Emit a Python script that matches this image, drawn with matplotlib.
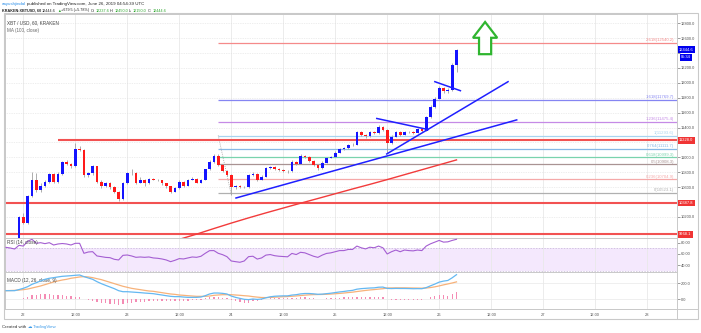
import matplotlib.pyplot as plt
import matplotlib.transforms as mtransforms
from matplotlib.patches import Polygon, Rectangle
from matplotlib.ticker import FuncFormatter

plt.rcParams['font.family'] = ['Liberation Sans', 'DejaVu Sans']

# ---- hourly XBT/USD candles, hour 0 = Jun 22 00:00 UTC ----
hours = list(range(-4, 101))
first_open = 9830
closes = [9850, 9880, 9870, 10196,                                             # -4..-1
          10116, 10480, 10697, 10560, 10620, 10674, 10773, 10674, 10780, 10934,  # 0..9
          10910, 10880, 11113, 11100, 10764, 10790, 10880, 10674, 10610, 10655,  # 10..19
          10600, 10540, 10438, 10652, 10790, 10795, 10660, 10700, 10650, 10705,  # 20..29
          10700, 10690, 10650, 10610, 10540, 10585, 10670, 10620, 10700, 10715,  # 30..39
          10660, 10700, 10840, 10943, 11025, 10898, 10822, 10770, 10600, 10612,  # 40..49
          10605, 10598, 10764, 10778, 10697, 10741, 10853, 10875, 10844, 10831,  # 50..59
          10822, 10812, 10943, 10912, 11019, 11010, 10956, 10898, 10853, 10930,  # 60..69
          10995, 11010, 11063, 11113, 11120, 11166, 11172, 11345, 11300, 11282,  # 70..79
          11340, 11330, 11412, 11368, 11198, 11278, 11345, 11300, 11345, 11338,  # 80..89
          11330, 11375, 11360, 11546, 11680, 11790, 11932, 11885, 11900, 12237.6,  # 90..99
          12444.6]
highs = [9880, 9900, 9895, 10210,
         10254, 10500, 10805, 10795, 10650, 10700, 10790, 10785, 10800, 10950,
         10960, 10925, 11190, 11150, 11110, 10810, 10900, 10890, 10690, 10670,
         10665, 10610, 10555, 10665, 10810, 10840, 10805, 10730, 10710, 10720,
         10720, 10710, 10700, 10660, 10620, 10600, 10690, 10680, 10715, 10730,
         10725, 10715, 10850, 10960, 11040, 11040, 10910, 10835, 10780, 10630,
         10625, 10615, 10780, 10800, 10790, 10760, 10870, 10890, 10885, 10855,
         10840, 10835, 10960, 10955, 11050, 11035, 11020, 10965, 10905, 10945,
         11010, 11025, 11080, 11130, 11140, 11185, 11190, 11360, 11355, 11320,
         11355, 11360, 11430, 11420, 11380, 11295, 11360, 11355, 11360, 11355,
         11350, 11390, 11385, 11560, 11700, 11815, 11960, 11945, 11925, 12260,
         12450]
lows = [9810, 9840, 9850, 9860,
        10100, 10100, 10470, 10540, 10540, 10600, 10660, 10650, 10660, 10770,
        10895, 10860, 10870, 11080, 10730, 10740, 10770, 10650, 10590, 10600,
        10580, 10520, 10410, 10430, 10640, 10770, 10640, 10650, 10620, 10645,
        10690, 10680, 10630, 10590, 10520, 10530, 10580, 10600, 10610, 10690,
        10650, 10650, 10690, 10830, 10930, 10880, 10800, 10750, 10500, 10580,
        10590, 10585, 10590, 10750, 10680, 10690, 10735, 10840, 10830, 10815,
        10805, 10795, 10805, 10900, 10905, 10995, 10940, 10880, 10835, 10845,
        10920, 10985, 11000, 11055, 11100, 11110, 11155, 11165, 11285, 11265,
        11275, 11315, 11320, 11355, 11055, 11185, 11270, 11285, 11295, 11325,
        11315, 11325, 11345, 11350, 11530, 11665, 11780, 11860, 11870, 11890,
        12150]

# MA(100, close)
ma_hours = [36, 40, 44, 48, 52, 56, 60, 64, 68, 72, 76, 80, 84, 88, 92, 96, 100]
ma_values = [9900, 9970, 10045, 10118, 10188, 10255, 10320, 10385, 10448,
             10512, 10576, 10638, 10702, 10768, 10834, 10900, 10966]

# RSI(14)
rsi = [71.7, 70.6, 68.8, 75.3,
       74.0, 82.4, 86.0, 78.9, 80.0, 78.3, 80.0, 75.9, 77.7, 78.5,
       77.7, 75.9, 78.9, 78.9, 61.2, 63.5, 64.1, 56.5, 55.3, 54.0,
       53.5, 50.6, 49.4, 57.6, 58.2, 56.5, 54.1, 54.7, 54.1, 54.7,
       53.0, 52.4, 51.2, 49.4, 46.4, 48.8, 51.8, 51.2, 53.0, 54.7,
       54.1, 55.9, 61.2, 65.9, 66.0, 61.2, 58.8, 55.3, 47.6, 46.4,
       45.3, 47.6, 55.3, 56.0, 51.0, 53.0, 58.0, 59.0, 57.0, 56.0,
       55.5, 55.0, 61.0, 59.0, 63.0, 62.0, 59.0, 56.0, 54.0, 58.0,
       61.0, 62.0, 64.0, 66.0, 66.0, 68.0, 68.0, 74.0, 71.0, 69.0,
       72.0, 71.0, 74.0, 71.0, 60.0, 64.0, 67.0, 64.0, 67.0, 66.0,
       65.5, 67.0, 66.0, 74.0, 78.0, 81.0, 84.0, 81.0, 81.5, 84.0,
       86.0]

# MACD(12, 26, close, 9)
macd = [106, 106, 106, 120,
        136, 157, 187, 208, 230, 251, 264, 272, 281, 289,
        293, 297, 302, 306, 285, 268, 251, 221, 196, 174,
        153, 132, 106, 93, 93, 89, 85, 81, 76, 72,
        68, 59, 51, 42, 34, 30, 30, 25, 21, 21,
        21, 25, 42, 64, 76, 76, 72, 64, 38, 21,
        8, -4, -8, 0, -5, 0, 15, 28, 35, 38,
        40, 40, 50, 55, 65, 70, 70, 66, 60, 62,
        68, 74, 82, 90, 96, 104, 110, 125, 132, 136,
        140, 142, 150, 152, 135, 133, 135, 134, 134, 133,
        131, 132, 131, 145, 168, 190, 215, 228, 236, 270,
        310]
signal = [106, 108, 110, 114,
          119, 127, 140, 153, 166, 183, 200, 217, 230, 242,
          251, 264, 272, 281, 285, 281, 272, 259, 247, 230,
          213, 196, 179, 162, 149, 136, 127, 119, 110, 102,
          98, 89, 81, 72, 64, 59, 51, 47, 42, 38,
          34, 34, 34, 38, 47, 51, 55, 55, 55, 51,
          47, 42, 38, 30, 24, 19, 18, 20, 23, 26,
          29, 31, 35, 39, 44, 49, 53, 56, 57, 58,
          60, 63, 67, 71, 76, 82, 87, 95, 102, 109,
          115, 120, 126, 131, 140, 141, 142, 142, 142, 141,
          140, 139, 138, 140, 146, 155, 167, 180, 192, 204,
          218]

# Fibonacci extension levels
fib_ratios = ['2.618', '1.618', '1.236', '1', '0.764', '0.618', '0.5', '0.236', '0']
fib_prices = [12540.2, 11769.7, 11475.4, 11293.6, 11111.7, 10999.3, 10908.3, 10704.9, 10523.1]
fib_colors = ['#f58a8a', '#8585f2', '#c58ae6', '#a8d4f0', '#86b8e6',
              '#79d3ad', '#a99393', '#f5a9a9', '#b0b0b0']
fib_start = 45

# support / resistance levels
red_levels = [11228.0, 10387.8, 9968.1]
red_starts = [8, -5, -5]

# trend lines: (h0, p0, h1, p1)
trend_lines = [(49.1, 10455, 113.9, 11503),
               (83.9, 11046, 111.9, 12016),
               (81.6, 11522, 93.4, 11374),
               (95.0, 12016, 100.9, 11895)]

hour_ticks = list(range(0, 145, 12))
hour_labels = ['22', '12:00', '23', '12:00', '24', '12:00', '25', '12:00',
               '26', '12:00', '27', '12:00', '28']

W, H = 701, 333
XMIN, XMAX = -4.34, 150.9
UP, DOWN = '#1414ff', '#ff1a1a'
GRID = '#e9e9e9'
AXTXT = '#555555'


def frame(x0, y0, x1, y1):
    return [x0 / W, 1 - y1 / H, (x1 - x0) / W, (y1 - y0) / H]


fig = plt.figure(figsize=(W / 100, H / 100), dpi=100)
fig.patch.set_facecolor('white')

ax = fig.add_axes(frame(4.5, 13.5, 677, 238))
ax_rsi = fig.add_axes(frame(4.5, 238, 677, 272), sharex=ax)
ax_macd = fig.add_axes(frame(4.5, 272, 677, 308.5), sharex=ax)

for a in (ax, ax_rsi, ax_macd):
    a.set_xlim(XMIN, XMAX)
    a.set_xticks(hour_ticks)
    a.grid(axis='x', color=GRID, lw=0.6)
    a.yaxis.tick_right()
    a.tick_params(axis='y', labelsize=2.9, colors=AXTXT, length=2, width=0.4, pad=1)
    a.tick_params(axis='x', length=0, labelbottom=False)
    for s in a.spines.values():
        s.set_color('#c9c9c9')
        s.set_linewidth(0.7)
    a.set_axisbelow(True)

# ---- price panel ----
ax.set_ylim(9918, 12931)
price_ticks = list(range(10200, 12801, 200))
hidden = {10400, 11200, 12400}
ax.set_yticks(price_ticks)
ax.yaxis.set_major_formatter(FuncFormatter(lambda v, p: '' if int(v) in hidden else f'{v:.1f}'))
ax.grid(axis='y', color='#dedede', lw=0.5, ls=(0, (1, 1.5)))

opens = [first_open] + closes[:-1]
bottoms = [min(o, c) for o, c in zip(opens, closes)]
bodies = [max(abs(c - o), 6) for o, c in zip(opens, closes)]
colors = [UP if c >= o else DOWN for o, c in zip(opens, closes)]
ax.vlines(hours, lows, highs, color='#a0a0a0', lw=0.6, zorder=3)
ax.bar(hours, bodies, bottom=bottoms, width=0.62, color=colors, lw=0, zorder=4)

ax.plot(ma_hours, ma_values, color='#f23b3b', lw=1.0, zorder=3)

for ratio, price, col in zip(fib_ratios, fib_prices, fib_colors):
    ax.hlines(price, fib_start, XMAX, color=col, lw=0.9, zorder=2)
    ax.text(150.2, price + 8, f'{ratio}({price:.1f})', color=col, fontsize=3.1,
            ha='right', va='bottom', zorder=5)
ax.plot([fib_start, 48], [fib_prices[3], 10500], color='#9a9a9a', lw=0.6, ls=(0, (1, 1.5)), zorder=2)

for lvl, start in zip(red_levels, red_starts):
    ax.hlines(lvl, start, XMAX, color='#f25252', lw=1.5, zorder=2)

for h0, p0, h1, p1 in trend_lines:
    ax.plot([h0, h1], [p0, p1], color='#1f1fff', lw=1.1, zorder=6)

# green arrow pointing up
arrow_h, arrow_tip, arrow_base, arrow_bottom = 106.6, 12817, 12605, 12385
head_half, shaft_half = 2.8, 1.4
arrow = Polygon([(arrow_h, arrow_tip), (arrow_h + head_half, arrow_base),
                 (arrow_h + shaft_half, arrow_base), (arrow_h + shaft_half, arrow_bottom),
                 (arrow_h - shaft_half, arrow_bottom), (arrow_h - shaft_half, arrow_base),
                 (arrow_h - head_half, arrow_base)],
                closed=True, fc='white', ec='#2fb52f', lw=1.6, zorder=7)
ax.add_patch(arrow)

tr = mtransforms.blended_transform_factory(ax.transAxes, ax.transData)
tag = dict(fontsize=2.9, color='white', ha='left', va='center', clip_on=False, zorder=10)
for lvl in red_levels:
    ax.text(1.003, lvl, f'{lvl:.1f}', transform=tr,
            bbox=dict(boxstyle='square,pad=0.35', fc='#f03434', ec='none'), **tag)
ax.text(1.003, closes[-1], f'{closes[-1]:.1f}', transform=tr,
        bbox=dict(boxstyle='square,pad=0.35', fc='#0000ee', ec='none'), **tag)
ax.annotate('05:34', xy=(1.003, closes[-1]), xycoords=tr, xytext=(1.5, -5.4),
            textcoords='offset points', bbox=dict(boxstyle='square,pad=0.35', fc='#0000ee', ec='none'),
            **tag)

ax.text(0.004, 0.957, 'XBT / USD, 60, KRAKEN', transform=ax.transAxes, fontsize=3.3,
        color='#444444', va='center')
ax.text(0.004, 0.925, 'MA (100, close)', transform=ax.transAxes, fontsize=3.3,
        color='#666666', va='center')

# ---- RSI panel ----
ax_rsi.set_ylim(28.1, 88.3)
ax_rsi.set_yticks([40, 60, 80])
ax_rsi.yaxis.set_major_formatter(FuncFormatter(lambda v, p: f'{v:.2f}'))
ax_rsi.axhspan(30, 70, color='#f4e8fd', lw=0, zorder=0)
for lvl in (30, 70):
    ax_rsi.axhline(lvl, color='#c5b6d6', lw=0.5, ls=(0, (2, 2)), zorder=1)
ax_rsi.plot(hours, rsi, color='#a45ed2', lw=0.8, zorder=3)
ax_rsi.text(0.004, 0.87, 'RSI (14, close)', transform=ax_rsi.transAxes, fontsize=3.3,
            color='#444444', va='center')

# ---- MACD panel ----
hist = [m - s for m, s in zip(macd, signal)]
ax_macd.set_ylim(-121, 344)
ax_macd.set_yticks([0, 200])
ax_macd.yaxis.set_major_formatter(FuncFormatter(lambda v, p: f'{v:.1f}'))
ax_macd.grid(axis='y', color=GRID, lw=0.5)
ax_macd.bar(hours, hist, width=0.3, color='#f48cb4', lw=0, zorder=2)
ax_macd.plot(hours, signal, color='#f7b27a', lw=0.9, zorder=3)
ax_macd.plot(hours, macd, color='#64b8f2', lw=0.9, zorder=4)
ax_macd.text(0.004, 0.78, 'MACD (12, 26, close, 9)', transform=ax_macd.transAxes,
             fontsize=3.3, color='#444444', va='center')
ax_macd.set_xticklabels(hour_labels)
ax_macd.tick_params(axis='x', labelbottom=True, labelsize=2.9, colors=AXTXT, pad=3.5)

# outer frame and price-axis divider
fig.add_artist(Rectangle((4 / W, 1 - 319 / H), 694 / W, 306 / H, transform=fig.transFigure,
                         fill=False, ec='#c9c9c9', lw=0.8))
fig.add_artist(plt.Line2D([677 / W, 677 / W], [1 - 319 / H, 1 - 308.5 / H],
                          transform=fig.transFigure, color='#c9c9c9', lw=0.7))
fig.add_artist(plt.Line2D([4 / W, 698 / W], [1 - 308.5 / H, 1 - 308.5 / H],
                          transform=fig.transFigure, color='#c9c9c9', lw=0.7))

# ---- header lines, each run of text placed right after the previous one ----
renderer = fig.canvas.get_renderer()


def text_row(x, y, parts, size, gap=1.2):
    for s, color, weight in parts:
        t = fig.text(x / W, 1 - y / H, s, fontsize=size, color=color, weight=weight,
                     va='center', ha='left')
        x = t.get_window_extent(renderer).x1 + gap


DARK, GREEN = '#222222', '#27a327'
text_row(2, 4.5, [('aayushjindal', '#2a8ee8', 'normal'),
                  ('published on TradingView.com, June 26, 2019 04:54:39 UTC', DARK, 'normal')], 3.2)
text_row(2, 10.5, [('KRAKEN:XBTUSD, 60', DARK, 'bold'), ('12444.6', DARK, 'normal'),
                   ('▲', GREEN, 'normal'), ('+679.5 (+5.78%)', DARK, 'normal'),
                   ('O:', DARK, 'normal'), ('12237.6', GREEN, 'normal'),
                   ('H:', DARK, 'normal'), ('12450.0', GREEN, 'normal'),
                   ('L:', DARK, 'normal'), ('12150.0', GREEN, 'normal'),
                   ('C:', DARK, 'normal'), ('12444.6', GREEN, 'normal')], 2.7, gap=0.9)
text_row(2, 327, [('Created with', '#333333', 'normal'), ('☁', '#3d9be9', 'normal'),
                  ('TradingView', '#3d9be9', 'normal')], 3.2)

fig.savefig('out.png', dpi=100)
